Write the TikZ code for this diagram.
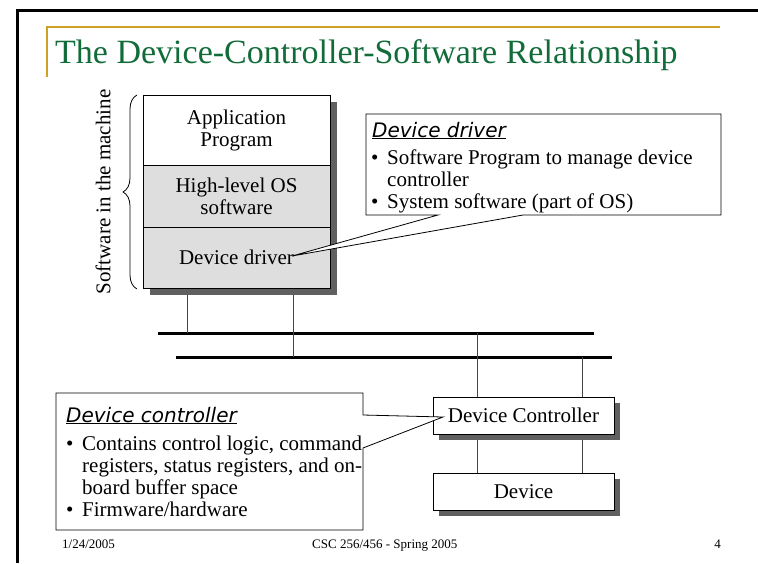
\documentclass[tikz,border=0pt]{standalone}
\usepackage{fontspec}
\setmainfont{Liberation Serif}
\newfontfamily\notefont{DejaVu Sans}
\usepackage{tikz}
\usetikzlibrary{positioning,calc,decorations.pathreplacing,shadows,backgrounds}

\definecolor{titlegreen}{RGB}{18,108,58}
\definecolor{rulegold}{RGB}{206,160,36}
\definecolor{layergray}{RGB}{222,222,222}
\definecolor{shadowgray}{RGB}{96,96,96}
\definecolor{wiregray}{RGB}{70,70,70}

\newcommand{\bull}{\makebox[16pt][l]{\textbullet}}
\newcommand{\hang}{\hspace*{16pt}}

\begin{document}
\begin{tikzpicture}[
  x=1pt, y=-1pt,
  every node/.style={font=\fontsize{21}{22}\selectfont},
  layer/.style={draw, line width=0.8pt, minimum width=187pt, inner sep=0pt, outer sep=0pt, align=center},
  hwbox/.style={draw, line width=0.8pt, fill=white, minimum width=181pt, minimum height=37pt, inner sep=0pt, outer sep=0pt,
    drop shadow={shadow xshift=6pt, shadow yshift=-6pt, fill=shadowgray, opacity=1}},
  bus/.style={line width=3pt},
  wire/.style={line width=0.9pt, wiregray},
  callout/.style={draw, fill=white, line width=0.8pt},
  notehead/.style={font=\notefont\itshape\fontsize{20}{22}\selectfont, inner sep=0pt, anchor=base west},
  notebody/.style={align=left, inner sep=0pt, anchor=north west},
  footer/.style={font=\fontsize{13}{15}\selectfont, inner sep=0pt}
]
\useasboundingbox (0,0) rectangle (758,563);

% slide frame and title
\draw[line width=3pt] (17,563) -- (17,10) -- (758,10);
\draw[rulegold, line width=1.2pt] (47,77) -- (47,27) -- (720,27);
\node[font=\fontsize{34}{40}\selectfont, text=titlegreen, inner sep=0pt, anchor=base west] (title) at (55,63)
  {The Device-Controller-Software Relationship};

% software stack
\node[layer, fill=white, minimum height=70pt, anchor=north west] (app) at (143,95) {Application\\Program};
\node[layer, fill=layergray, minimum height=62pt, below=0pt of app] (hlos) {High-level OS\\software};
\node[layer, fill=layergray, minimum height=61pt, below=0pt of hlos] (drv) {\raisebox{-4pt}{Device driver}};
\begin{scope}[on background layer]
  \fill[shadowgray] ($(app.north west)+(7,7)$) rectangle ($(drv.south east)+(7,7)$);
\end{scope}

\draw[decorate, decoration={brace, amplitude=14pt}, line width=0.8pt] (137,289) -- (137,95);
\node[rotate=90, inner sep=0pt] (swlabel) at (103,192) {Software in the machine};

% buses
\coordinate (b1w) at (158,333);
\coordinate (b1e) at (594,333);
\coordinate (b2w) at (176,357);
\coordinate (b2e) at (612,357);
\draw[bus] (b1w) -- (b1e);
\draw[bus] (b2w) -- (b2e);

% hardware
\node[hwbox, anchor=north west] (ctrl) at (433,397) {Device Controller};
\node[hwbox, below=39pt of ctrl] (dev) {Device};

\coordinate (t1) at (187,295);
\coordinate (t2) at (293,295);
\coordinate (c1) at (477,333);
\coordinate (c2) at (582,357);
\draw[wire] (t1) -- (t1 |- b1w);
\draw[wire] (t2) -- (t2 |- b2w);
\draw[wire] (c1) -- (c1 |- ctrl.north);
\draw[wire] (c2) -- (c2 |- ctrl.north);
\draw[wire] ($(c1 |- ctrl.south)+(0,6)$) -- (c1 |- dev.north);
\draw[wire] ($(c2 |- ctrl.south)+(0,6)$) -- (c2 |- dev.north);

% callouts
\draw[callout] (366,114) -- (721,114) -- (721,215) -- (523,215) -- (292,256) -- (438,215) -- (366,215) -- cycle;
\node[notehead] (ddhead) at (372,137) {\underline{Device driver}};
\node[notebody] (ddbody) at (371,150)
  {\bull Software Program to manage device\\ \hang controller\\ \bull System software (part of OS)};

\draw[callout] (56,393) -- (363,393) -- (363,415) -- (443,417) -- (363,448) -- (363,530) -- (56,530) -- cycle;
\node[notehead] (dchead) at (66,422) {\underline{Device controller}};
\node[notebody] (dcbody) at (66,436)
  {\bull Contains control logic, command\\ \hang registers, status registers, and on-\\ \hang board buffer space\\ \bull Firmware/hardware};

% footer
\node[footer, anchor=base west] (date) at (62,548) {1/24/2005};
\node[footer, anchor=base west] (course) at (312,548) {CSC 256/456 - Spring 2005};
\node[footer, anchor=base east] (page) at (721,548) {4};
\end{tikzpicture}
\end{document}
